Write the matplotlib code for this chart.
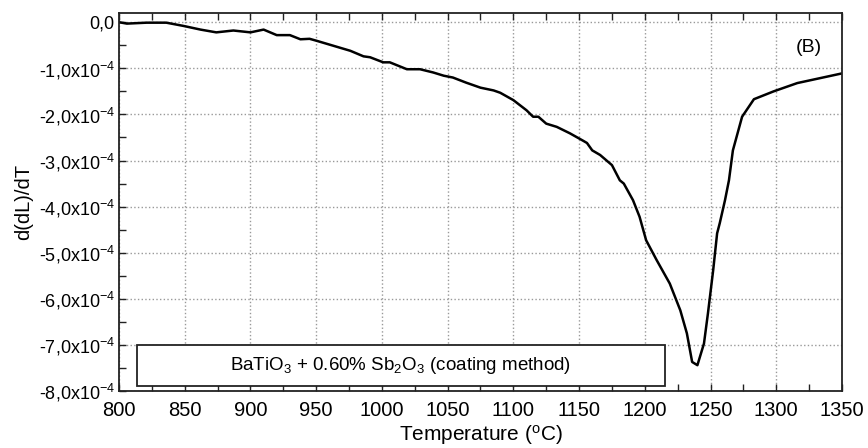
import matplotlib
matplotlib.use('Agg')
import matplotlib.pyplot as plt
from matplotlib.patches import Rectangle
from matplotlib.ticker import MultipleLocator, FixedLocator

plt.rcParams['font.family'] = ['Liberation Sans', 'DejaVu Sans']
plt.rcParams['mathtext.fontset'] = 'custom'
plt.rcParams['mathtext.rm'] = 'Liberation Sans'
plt.rcParams['mathtext.default'] = 'regular'

# values (y in units of 1e-4)
temp = [800, 806, 821, 836, 849, 862, 874, 887, 900, 910, 920, 930, 938, 945, 950,
        963, 976, 986, 991, 1001, 1006, 1019, 1029, 1039, 1047, 1054, 1064, 1075,
        1085, 1090, 1100, 1110, 1115, 1119, 1125, 1133, 1143, 1153, 1156, 1160,
        1166, 1175, 1181, 1184, 1191, 1196, 1201, 1209, 1219, 1227, 1232, 1236,
        1240, 1245, 1248, 1252, 1255, 1257, 1261, 1264, 1267, 1274, 1283, 1298,
        1316, 1350]
dldt = [0.0, -0.03, -0.01, -0.01, -0.08, -0.16, -0.22, -0.18, -0.22, -0.16, -0.28,
        -0.28, -0.37, -0.36, -0.40, -0.51, -0.62, -0.74, -0.76, -0.87, -0.87,
        -1.02, -1.02, -1.09, -1.16, -1.20, -1.31, -1.42, -1.48, -1.53, -1.69,
        -1.91, -2.05, -2.05, -2.20, -2.27, -2.41, -2.57, -2.62, -2.78, -2.88,
        -3.10, -3.43, -3.50, -3.86, -4.22, -4.73, -5.16, -5.67, -6.25, -6.75,
        -7.37, -7.44, -6.97, -6.32, -5.38, -4.58, -4.36, -3.86, -3.43, -2.78,
        -2.05, -1.67, -1.50, -1.32, -1.11]

yticks = [0, -1, -2, -3, -4, -5, -6, -7, -8]
ylabels = ['0,0'] + ['%d,0x10$^{-4}$' % v for v in yticks[1:]]
box_text = 'BaTiO$_3$ + 0.60% Sb$_2$O$_3$ (coating method)'

fig = plt.figure(figsize=(8.68, 4.48), dpi=100)
ax = fig.add_axes([119/868, 1 - 391/448, 723/868, 378/448])

ax.plot(temp, [v * 1e-4 for v in dldt], color='black', lw=1.8)

ax.set_xlim(800, 1350)
ax.set_ylim(-8e-4, 0.2e-4)
ax.xaxis.set_major_locator(MultipleLocator(50))
ax.xaxis.set_minor_locator(MultipleLocator(25))
ax.yaxis.set_major_locator(FixedLocator([v * 1e-4 for v in yticks]))
ax.yaxis.set_minor_locator(MultipleLocator(0.5e-4))
ax.set_yticklabels(ylabels)
ax.tick_params(which='both', direction='in', top=True, right=False,
               width=1, color='#222222')
ax.tick_params(which='major', length=5)
ax.tick_params(which='minor', length=5)
ax.tick_params(axis='x', pad=7, labelsize=14.5)
ax.tick_params(axis='y', pad=3, labelsize=13)
ax.grid(True, which='major', color='#999999', ls=':', lw=1.0)
for s in ax.spines.values():
    s.set_linewidth(1.3)
    s.set_color('#222222')

ax.set_xlabel('Temperature ($^{o}$C)', fontsize=15, labelpad=2)
ax.set_ylabel('d(dL)/dT', fontsize=14.5, labelpad=4)

ax.add_patch(Rectangle((814, -7.9e-4), 401, 0.9e-4, facecolor='white',
                       edgecolor='#222222', lw=1.3, zorder=3))
ax.text(1014, -7.45e-4, box_text, ha='center', va='center', fontsize=13.5, zorder=4)
ax.text(1325, -0.55e-4, '(B)', ha='center', va='center', fontsize=14)

fig.savefig('out.png', dpi=100)
